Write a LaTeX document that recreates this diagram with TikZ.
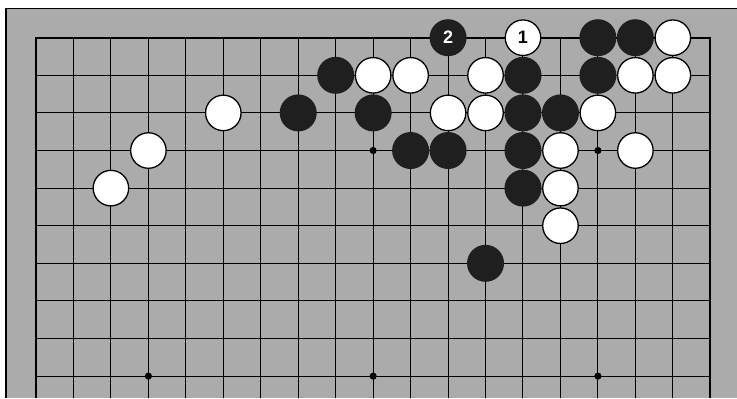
\documentclass[tikz,border=0pt]{standalone}
\usepackage{fontspec}
\setmainfont{Liberation Sans}

\tikzset{every picture/.style={line width=0.75pt}}
\tikzset{
    wstone/.style={circle, draw=black, line width=1.3pt, fill=white, minimum size=35.5pt, inner sep=0pt, font=\bfseries\fontsize{18}{18}\selectfont},
    bstone/.style={circle, fill=black!88, minimum size=37pt, inner sep=0pt, text=white, font=\bfseries\fontsize{18}{18}\selectfont},
    gridline/.style={line width=1pt},
    edgeline/.style={line width=1.8pt}
}

\begin{document}
\begin{tikzpicture}[x=37.46pt, y=-37.6pt]
    \useasboundingbox (-0.961,-1.003) rectangle (18.713,9.582);
    \fill[white] (-0.961,-1.003) rectangle (18.713,9.582);
    \fill[black!33] (-0.801,-0.777) rectangle (18.713,9.582);
    \draw[edgeline] (-0.801,9.582) -- (-0.801,-0.777) -- (18.713,-0.777);
    \foreach \c in {1,...,17} \draw[gridline] (\c,0) -- (\c,9.582);
    \foreach \r in {1,...,9} \draw[gridline] (0,\r) -- (18,\r);
    \draw[edgeline] (0,9.582) -- (0,0) -- (18,0) -- (18,9.582);
    \foreach \c/\r in {9/3,15/3,3/9,9/9,15/9} \fill (\c,\r) circle (3.6pt);
    \foreach \c/\r in {8/1,7/2,9/2,10/3,11/3,13/1,13/2,14/2,13/3,13/4,12/6,15/0,16/0,15/1}
        \node[bstone] (b\c-\r) at (\c,\r) {};
    \foreach \c/\r in {5/2,3/3,2/4,9/1,10/1,12/1,11/2,12/2,15/2,14/3,16/3,14/4,14/5,17/0,16/1,17/1}
        \node[wstone] (w\c-\r) at (\c,\r) {};
    \node[bstone] (move2) at (11,0) {2};
    \node[wstone] (move1) at (13,0) {1};
\end{tikzpicture}
\end{document}
